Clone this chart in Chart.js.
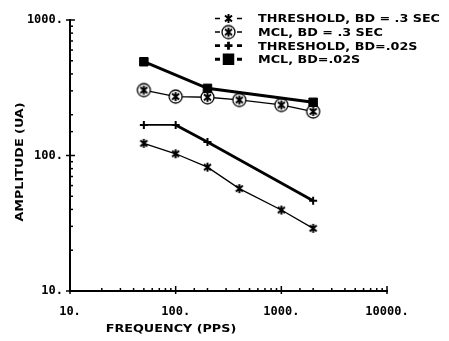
<!DOCTYPE html>
<html>
<head>
<meta charset="utf-8">
<script src="https://cdn.jsdelivr.net/npm/chart.js@4/dist/chart.umd.min.js"></script>
<style>
  html, body { margin: 0; padding: 0; background: #fff; }
  #wrap { width: 449px; height: 341px; position: relative; }
</style>
</head>
<body>
<div id="wrap"><canvas id="ampChart"></canvas></div>
<script>
// pulse rate (pps) and amplitude (uA) readings
const freqLong = [50, 100, 200, 400, 1000, 2000];
const thresholdLong = [123, 103, 82, 57, 39.6, 29];
const mclLong = [304, 272, 269, 257, 236, 211];
const freqThresholdShort = [50, 100, 200, 2000];
const thresholdShort = [168, 168, 126, 46.4];
const freqMclShort = [50, 200, 2000];
const mclShort = [492, 313, 247];
const seriesNames = ['THRESHOLD, BD = .3 SEC', 'MCL, BD = .3 SEC', 'THRESHOLD, BD=.02S', 'MCL, BD=.02S'];
const majorTicks = [10, 100, 1000, 10000];
const xTitle = 'FREQUENCY (PPS)';
const yTitle = 'AMPLITUDE (UA)';

const ink = '#000';
const textFont = 'bold 11px "DejaVu Sans"';
const stretch = 1.16; // wide plotter lettering
const tickFont = { family: 'DejaVu Sans Mono', weight: 'bold', size: 12 };

function toPoints(xs, ys) {
  return xs.map((x, i) => ({ x, y: ys[i] }));
}

// plotter style asterisk, optionally inside a circle
function makeStar(circled) {
  const size = circled ? 17 : 11;
  const c = document.createElement('canvas');
  c.width = size; c.height = size;
  const g = c.getContext('2d');
  const m = size / 2;
  if (circled) {
    g.beginPath();
    g.arc(m, m, 6.5, 0, Math.PI * 2);
    g.fillStyle = '#fff';
    g.fill();
    g.lineWidth = 1.3;
    g.strokeStyle = ink;
    g.stroke();
  }
  g.strokeStyle = ink;
  g.lineWidth = 2;
  g.beginPath();
  g.moveTo(m, m - 4.5); g.lineTo(m, m + 4.5);
  g.moveTo(m - 3.5, m - 3); g.lineTo(m + 3.5, m + 3);
  g.moveTo(m - 3.5, m + 3); g.lineTo(m + 3.5, m - 3);
  g.stroke();
  return c;
}

const starPlain = makeStar(false);
const starCircled = makeStar(true);

const datasets = [
  { label: seriesNames[0], data: toPoints(freqLong, thresholdLong), borderColor: ink, borderWidth: 1.3,
    pointStyle: starPlain, pointRadius: 5, order: 3 },
  { label: seriesNames[1], data: toPoints(freqLong, mclLong), borderColor: ink, borderWidth: 1.3,
    pointStyle: starCircled, pointRadius: 7, order: 2 },
  { label: seriesNames[2], data: toPoints(freqThresholdShort, thresholdShort), borderColor: ink, borderWidth: 2.8,
    segment: { borderWidth: s => (s.p0DataIndex === 0 ? 1.8 : 2.8) },
    pointStyle: 'cross', pointRadius: 4, pointBorderWidth: 2, order: 1 },
  { label: seriesNames[3], data: toPoints(freqMclShort, mclShort), borderColor: ink, borderWidth: 3,
    pointStyle: 'rect', pointRadius: 6, pointBackgroundColor: ink, pointBorderWidth: 1, order: 0 }
];

const isMajor = v => majorTicks.some(m => Math.abs(m - v) < 1e-6);

function drawMarker(ctx, ds, x, y) {
  if (ds.pointStyle instanceof HTMLCanvasElement) {
    ctx.drawImage(ds.pointStyle, x - ds.pointStyle.width / 2, y - ds.pointStyle.height / 2);
    return;
  }
  Chart.helpers.drawPoint(ctx, {
    pointStyle: ds.pointStyle, radius: ds.pointRadius, borderWidth: ds.pointBorderWidth || 1, rotation: 0
  }, x, y);
}

function wideText(ctx, text, x, y, align) {
  const w = ctx.measureText(text).width * stretch;
  const left = align === 'center' ? x - w / 2 : x;
  ctx.save();
  ctx.translate(left, y);
  ctx.scale(stretch, 1);
  ctx.textAlign = 'left';
  ctx.fillText(text, 0, 0);
  ctx.restore();
}

// inside tick marks, axis titles and the key in the top right corner
const framePlugin = {
  id: 'framePlugin',
  afterDraw(chart) {
    const { ctx, chartArea: a, scales: { x, y } } = chart;
    ctx.save();
    ctx.strokeStyle = ink;
    ctx.fillStyle = ink;
    ctx.lineWidth = 1.5;
    y.ticks.forEach(t => {
      const py = y.getPixelForValue(t.value);
      const major = isMajor(t.value);
      ctx.beginPath();
      ctx.moveTo(a.left - (major ? 4 : 0), py);
      ctx.lineTo(a.left + (major ? 5 : 3), py);
      ctx.stroke();
    });
    x.ticks.forEach(t => {
      const px = x.getPixelForValue(t.value);
      const major = isMajor(t.value);
      ctx.beginPath();
      ctx.moveTo(px, a.bottom + (major ? 3 : 0));
      ctx.lineTo(px, a.bottom - (major ? 5 : 3));
      ctx.stroke();
    });

    ctx.font = textFont;
    ctx.textBaseline = 'middle';
    wideText(ctx, xTitle, a.left + 101, a.bottom + 38, 'center');
    ctx.save();
    ctx.translate(20, a.top + 142);
    ctx.rotate(-Math.PI / 2);
    wideText(ctx, yTitle, 0, 0, 'center');
    ctx.restore();

    // key
    const keyX = a.left + 145;
    const keyTop = 18.5;
    const step = 13.6;
    datasets.forEach((ds, i) => {
      const ry = keyTop + i * step;
      ctx.lineWidth = Math.max(1.5, ds.borderWidth);
      ctx.beginPath();
      ctx.moveTo(keyX, ry); ctx.lineTo(keyX + 5, ry);
      ctx.moveTo(keyX + 22, ry); ctx.lineTo(keyX + 27, ry);
      ctx.stroke();
      drawMarker(ctx, ds, keyX + 13.5, ry);
      ctx.fillStyle = ink;
      wideText(ctx, ds.label, keyX + 43, ry + 1, 'left');
    });
    ctx.restore();
  }
};

const tickLabel = v => (isMajor(v) ? Math.round(v) + '.' : '');

new Chart(document.getElementById('ampChart'), {
  type: 'line',
  data: { datasets },
  options: {
    responsive: true,
    maintainAspectRatio: false,
    animation: false,
    layout: { padding: { left: 0, right: 62, top: 20, bottom: 0 } },
    elements: { line: { tension: 0, fill: false } },
    plugins: { legend: { display: false }, tooltip: { enabled: false } },
    scales: {
      x: {
        type: 'logarithmic', min: 10, max: 10000,
        grid: { display: false, drawTicks: false },
        border: { display: true, color: ink, width: 2 },
        ticks: { autoSkip: false, maxRotation: 0, color: ink, font: tickFont, padding: 14, callback: tickLabel },
        afterFit: s => { s.height = 50; }
      },
      y: {
        type: 'logarithmic', min: 10, max: 1000,
        grid: { display: false, drawTicks: false },
        border: { display: true, color: ink, width: 2 },
        ticks: { autoSkip: false, color: ink, font: tickFont, padding: 7, callback: tickLabel },
        afterFit: s => { s.width = 70; }
      }
    }
  },
  plugins: [framePlugin]
});
</script>
</body>
</html>
